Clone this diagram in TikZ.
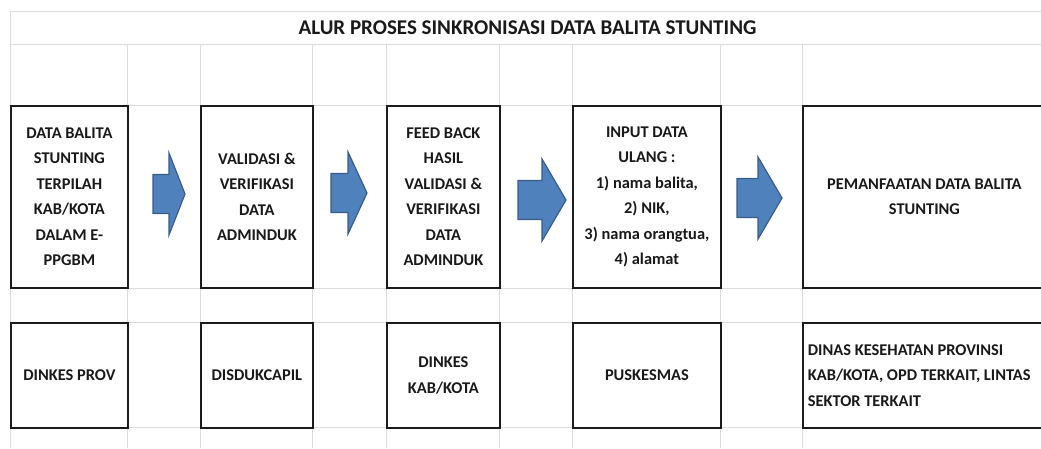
\documentclass[tikz,border=0pt]{standalone}
\usepackage{fontspec}
\setmainfont{Carlito}
\definecolor{sheetgrid}{RGB}{218,220,222}
\definecolor{flowblue}{RGB}{79,129,189}
\definecolor{flowedge}{RGB}{56,93,138}
\definecolor{boxline}{RGB}{28,28,28}
\usetikzlibrary{positioning,calc}
\tikzset{
  pics/flowarrow/.style 2 args={code={
    \draw[flowedge, line width=1.2pt, fill=flowblue, line join=miter]
      (-#1,-19.5) -- (0,-19.5) -- (0,-41) -- (#2,0) -- (0,41) -- (0,19.5) -- (-#1,19.5) -- cycle;
  }}
}

\begin{document}
\begin{tikzpicture}[x=1pt, y=-1pt,
  gridline/.style={sheetgrid, line width=0.8pt},
  cellbox/.style={draw=boxline, line width=1.8pt, inner sep=0pt, align=center, text=black!90,
    font=\fontsize{16.4}{25.5}\selectfont\bfseries, anchor=north west},
  bigcell/.style={cellbox, minimum height=182pt},
  smallcell/.style={cellbox, minimum height=105pt}]
\useasboundingbox (0,0) rectangle (1041,448);
\clip (0,0) rectangle (1041,448);
\fill[white] (0,0) rectangle (1041,448);
% Sheet grid
\foreach \gy in {11,44,105,288,322,427}
  \draw[gridline] (10,\gy) -- (1041,\gy);
\foreach \gx in {127,200,312,386,499,572,720,802}
  \draw[gridline] (\gx,44) -- (\gx,448);
\draw[gridline] (10,11) -- (10,448);
% Title
\node[font=\fontsize{21}{25}\selectfont\bfseries, text=black!90] (title) at (527.5,28)
  {ALUR PROSES SINKRONISASI DATA BALITA STUNTING};
% Process steps
\node[bigcell, minimum width=117pt] (data) at (10,105)
  {DATA BALITA\\STUNTING\\TERPILAH\\KAB/KOTA\\DALAM E-\\PPGBM};
\node[bigcell, minimum width=112pt] (valid) at (200,105)
  {VALIDASI \&\\VERIFIKASI\\DATA\\ADMINDUK};
\node[bigcell, minimum width=113pt] (feedback) at (386,105)
  {FEED BACK\\HASIL\\VALIDASI \&\\VERIFIKASI\\DATA\\ADMINDUK};
\node[bigcell, minimum width=148pt] (input) at (572,105)
  {INPUT DATA\\ULANG :\\1) nama balita,\\2) NIK,\\3) nama orangtua,\\4) alamat};
\node[bigcell, minimum width=243pt] (guna) at (802,105)
  {PEMANFAATAN DATA BALITA\\STUNTING};
% Block arrows
\pic at (169,194) {flowarrow={16}{16}};
\pic at (348,193) {flowarrow={17}{19}};
\pic at (542,200) {flowarrow={24}{24}};
\pic at (758,198) {flowarrow={21}{24}};
% Institutions
\node[smallcell, minimum width=117pt] (prov) at (10,322) {DINKES PROV};
\node[smallcell, minimum width=112pt] (capil) at (200,322) {DISDUKCAPIL};
\node[smallcell, minimum width=113pt] (kabkota) at (386,322) {DINKES\\KAB/KOTA};
\node[smallcell, minimum width=148pt] (pkm) at (572,322) {PUSKESMAS};
\node[smallcell, minimum width=243pt, align=flush left, text width=233pt] (lintas) at (802,322)
  {DINAS KESEHATAN PROVINSI\\KAB/KOTA, OPD TERKAIT, LINTAS\\SEKTOR TERKAIT};
\end{tikzpicture}
\end{document}
